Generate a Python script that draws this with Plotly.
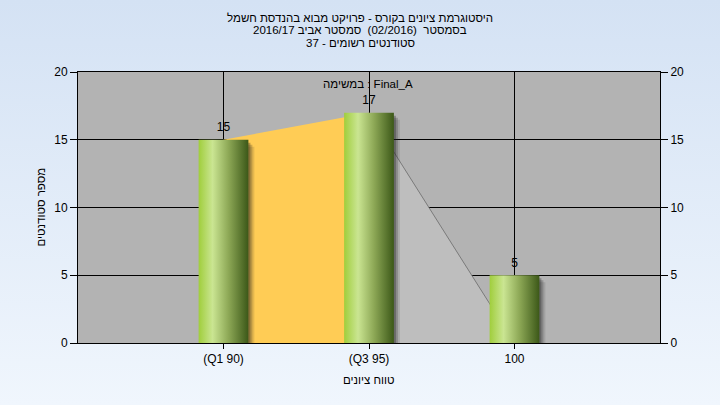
import base64
import plotly.graph_objects as go

# ---- data ----
categories = ["(Q1 90)", "(Q3 95)", "100"]
students = [15, 17, 5]
curve_iqr_x = [0, 1]          # interquartile segment (category index)
curve_iqr_y = [15, 17]
curve_tail_x = [1, 2]
curve_tail_y = [17, 0]
y_ticks = [0, 5, 10, 15, 20]

title_lines = [
    "היסטוגרמת ציונים בקורס - פרויקט מבוא בהנדסת חשמל",
    "בסמסטר  (02/2016)  סמסטר אביב 2016/17",
    "סטודנטים רשומים - 37",
]
task_label = "במשימה : Final_A"
x_title = "טווח ציונים"
y_title = "מספר סטודנטים"

# ---- geometry / style ----
W, H = 720, 405
ML, MR, MT, MB = 78, 60, 72, 62
PW, PH = W - ML - MR, H - MT - MB
FONT = "Liberation Sans"
half_w = 0.171
x_px = 4.0 / PW           # 1 px in x units (range width 4)
y_px = 20.0 / PH          # 1 px in y units

bar_scale = [[0, "#A0CE3C"], [0.28, "#CAE592"], [0.6, "#8DA856"], [1, "#3C5818"]]

fig = go.Figure()

# areas behind bars
fig.add_trace(go.Scatter(
    x=curve_iqr_x + curve_iqr_x[::-1], y=curve_iqr_y + [0, 0],
    fill="toself", fillcolor="#FFCC55", mode="lines", line=dict(width=0),
    hoverinfo="skip", showlegend=False))
fig.add_trace(go.Scatter(
    x=curve_tail_x + curve_tail_x[::-1], y=curve_tail_y + [0, 0],
    fill="toself", fillcolor="#BEBEBE", mode="lines", line=dict(width=0),
    hoverinfo="skip", showlegend=False))
fig.add_trace(go.Scatter(
    x=curve_tail_x, y=curve_tail_y, mode="lines",
    line=dict(color="#7A7A7A", width=1), hoverinfo="skip", showlegend=False))

# bars: soft shadows then gradient bodies
for i, v in enumerate(students):
    for k, a in [(6, 0.12), (4, 0.22), (2, 0.32)]:
        x0 = i - half_w + k * x_px
        x1 = i + half_w + k * x_px
        yt = v - (k + 1) * y_px
        fig.add_trace(go.Scatter(
            x=[x0, x1, x1, x0, x0], y=[0, 0, yt, yt, 0],
            fill="toself", fillcolor=f"rgba(30,30,30,{a})", mode="lines",
            line=dict(width=0), hoverinfo="skip", showlegend=False))
for i, v in enumerate(students):
    x0, x1 = i - half_w, i + half_w
    fig.add_trace(go.Scatter(
        x=[x0, x1, x1, x0, x0], y=[0, 0, v, v, 0],
        fill="toself", mode="lines", line=dict(width=0),
        fillgradient=dict(type="horizontal", colorscale=bar_scale, start=x0, stop=x1),
        hoverinfo="skip", showlegend=False))

# value labels
fig.add_trace(go.Scatter(
    x=list(range(len(students))), y=students, mode="markers+text",
    marker=dict(size=7, opacity=0),
    text=[str(v) for v in students], textposition="top center",
    textfont=dict(family=FONT, size=12, color="black"),
    hoverinfo="skip", showlegend=False, cliponaxis=False))

# invisible trace for right axis
fig.add_trace(go.Scatter(
    x=list(range(len(students))), y=students, yaxis="y2", mode="markers",
    marker=dict(opacity=0), hoverinfo="skip", showlegend=False))

# background gradient image
svg = (f'<svg xmlns="http://www.w3.org/2000/svg" width="{W}" height="{H}">'
       '<defs><linearGradient id="g" x1="0" y1="0" x2="0" y2="1">'
       '<stop offset="0" stop-color="#D4E2F4"/><stop offset="1" stop-color="#F0F6FD"/>'
       '</linearGradient></defs>'
       f'<rect width="{W}" height="{H}" fill="url(#g)"/></svg>')
src = "data:image/svg+xml;base64," + base64.b64encode(svg.encode()).decode()

def py(p):
    return (MT + PH - p) / PH

def px(p):
    return (p - ML) / PW

annotations = []
for txt, ypix in zip(title_lines, [18, 30.5, 43]):
    annotations.append(dict(text=txt, x=px(360), y=py(ypix), xref="paper", yref="paper",
                            showarrow=False, xanchor="center", yanchor="middle",
                            font=dict(family=FONT, size=11.5, color="black")))
annotations.append(dict(text=task_label, x=px(368), y=py(84), xref="paper", yref="paper",
                        showarrow=False, xanchor="center", yanchor="middle",
                        font=dict(family=FONT, size=11.5, color="black")))
annotations.append(dict(text=x_title, x=px(369), y=py(380), xref="paper", yref="paper",
                        showarrow=False, xanchor="center", yanchor="middle",
                        font=dict(family=FONT, size=11.5, color="black")))
annotations.append(dict(text=y_title, x=px(40), y=0.5, xref="paper", yref="paper",
                        showarrow=False, xanchor="center", yanchor="middle", textangle=-90,
                        font=dict(family=FONT, size=11.5, color="black")))

fig.update_layout(
    width=W, height=H,
    margin=dict(l=ML, r=MR, t=MT, b=MB, pad=0),
    paper_bgcolor="#E4EDF8", plot_bgcolor="#B3B3B3",
    font=dict(family=FONT, size=12, color="black"),
    showlegend=False,
    images=[dict(source=src, xref="paper", yref="paper", x=-ML / PW, y=1 + MT / PH,
                 sizex=W / PW, sizey=H / PH, sizing="stretch", layer="below",
                 xanchor="left", yanchor="top")],
    shapes=[dict(type="rect", xref="x domain", yref="y domain", x0=0, x1=1, y0=0, y1=1,
                 fillcolor="#B3B3B3", line=dict(width=0), layer="below")],
    annotations=annotations,
    xaxis=dict(range=[-1, 3], tickmode="array", tickvals=list(range(len(categories))),
               ticktext=categories, showgrid=True, gridcolor="black", gridwidth=1,
               showline=True, linecolor="black", linewidth=1, mirror=True,
               ticks="outside", ticklen=5, tickcolor="black", zeroline=False,
               tickfont=dict(family=FONT, size=12, color="black")),
    yaxis=dict(range=[0, 20], tickmode="array", tickvals=y_ticks,
               showgrid=True, gridcolor="black", gridwidth=1,
               showline=True, linecolor="black", linewidth=1, mirror=True,
               ticks="outside", ticklen=7, tickcolor="black", zeroline=False,
               tickfont=dict(family=FONT, size=12, color="black")),
    yaxis2=dict(range=[0, 20], tickmode="array", tickvals=y_ticks, overlaying="y",
                side="right", showgrid=False, showline=True, linecolor="black",
                ticks="outside", ticklen=7, tickcolor="black", zeroline=False,
                tickfont=dict(family=FONT, size=12, color="black")),
)

fig.write_html("out.html", config={"displayModeBar": False},
               post_script="document.body.style.margin='0';")
